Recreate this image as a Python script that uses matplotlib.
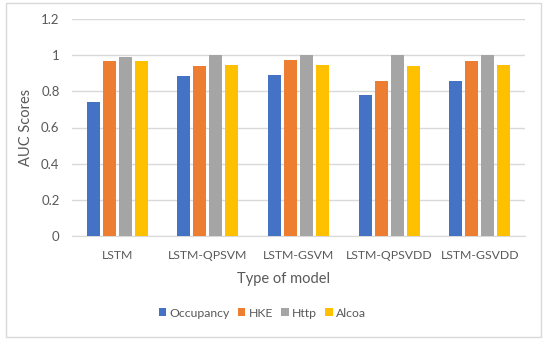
import numpy as np
import matplotlib.pyplot as plt
from matplotlib.patches import Rectangle

# data
models = ["LSTM", "LSTM-QPSVM", "LSTM-GSVM", "LSTM-QPSVDD", "LSTM-GSVDD"]
occupancy = [0.74, 0.885, 0.89, 0.78, 0.855]
hke = [0.97, 0.94, 0.975, 0.855, 0.97]
http = [0.99, 1.0, 1.0, 1.0, 1.0]
alcoa = [0.965, 0.945, 0.945, 0.94, 0.945]

series = [("Occupancy", occupancy, "#4472C4"),
          ("HKE", hke, "#ED7D31"),
          ("Http", http, "#A5A5A5"),
          ("Alcoa", alcoa, "#FFC000")]

plt.rcParams["font.family"] = ["Lato", "DejaVu Sans"]
text_col = "#595959"

W, H = 550, 345
fig = plt.figure(figsize=(W / 100, H / 100), dpi=100)

# chart frame (Excel chart area border)
fig.patches.append(Rectangle((6 / W, 1 - 337 / H), (541 - 6) / W, (337 - 3) / H,
                             transform=fig.transFigure, fill=False,
                             edgecolor="#D9D9D9", linewidth=1))

# plot area in pixels: x 72..525, y 19..236
ax = fig.add_axes([72 / W, 1 - 236 / H, (525 - 72) / W, (236 - 19) / H])

x = np.arange(len(models))
bw = 0.143
step = 0.177
for i, (name, vals, col) in enumerate(series):
    ax.bar(x + (i - 1.5) * step, vals, width=bw, color=col, label=name, zorder=3)

ax.set_xlim(-0.5, len(models) - 0.5)
ax.set_ylim(0, 1.2)
ax.set_yticks([0, 0.2, 0.4, 0.6, 0.8, 1.0, 1.2])
ax.set_yticklabels(["0", "0.2", "0.4", "0.6", "0.8", "1", "1.2"])
ax.set_xticks(x)
ax.set_xticklabels(models)
ax.yaxis.grid(True, color="#D9D9D9", linewidth=1, zorder=0)
for s in ["top", "right", "left"]:
    ax.spines[s].set_visible(False)
ax.spines["bottom"].set_color("#D9D9D9")
ax.tick_params(axis="y", length=0, labelsize=9.5, colors=text_col, pad=9)
ax.tick_params(axis="x", length=0, labelsize=8.8, colors=text_col, pad=10)

ax.set_xlabel("Type of model", fontsize=10.5, color=text_col)
ax.xaxis.set_label_coords(0.466, -0.165)
ax.set_ylabel("AUC Scores", fontsize=10.5, color=text_col)
ax.yaxis.set_label_coords(-0.086, 0.5)

ax.legend(loc="center", bbox_to_anchor=(0.42, -0.355), ncol=4, frameon=False,
          fontsize=8.8, labelcolor=text_col, handlelength=0.6, handleheight=0.6,
          handletextpad=0.25, columnspacing=0.7)

fig.savefig("out.png", dpi=100)
